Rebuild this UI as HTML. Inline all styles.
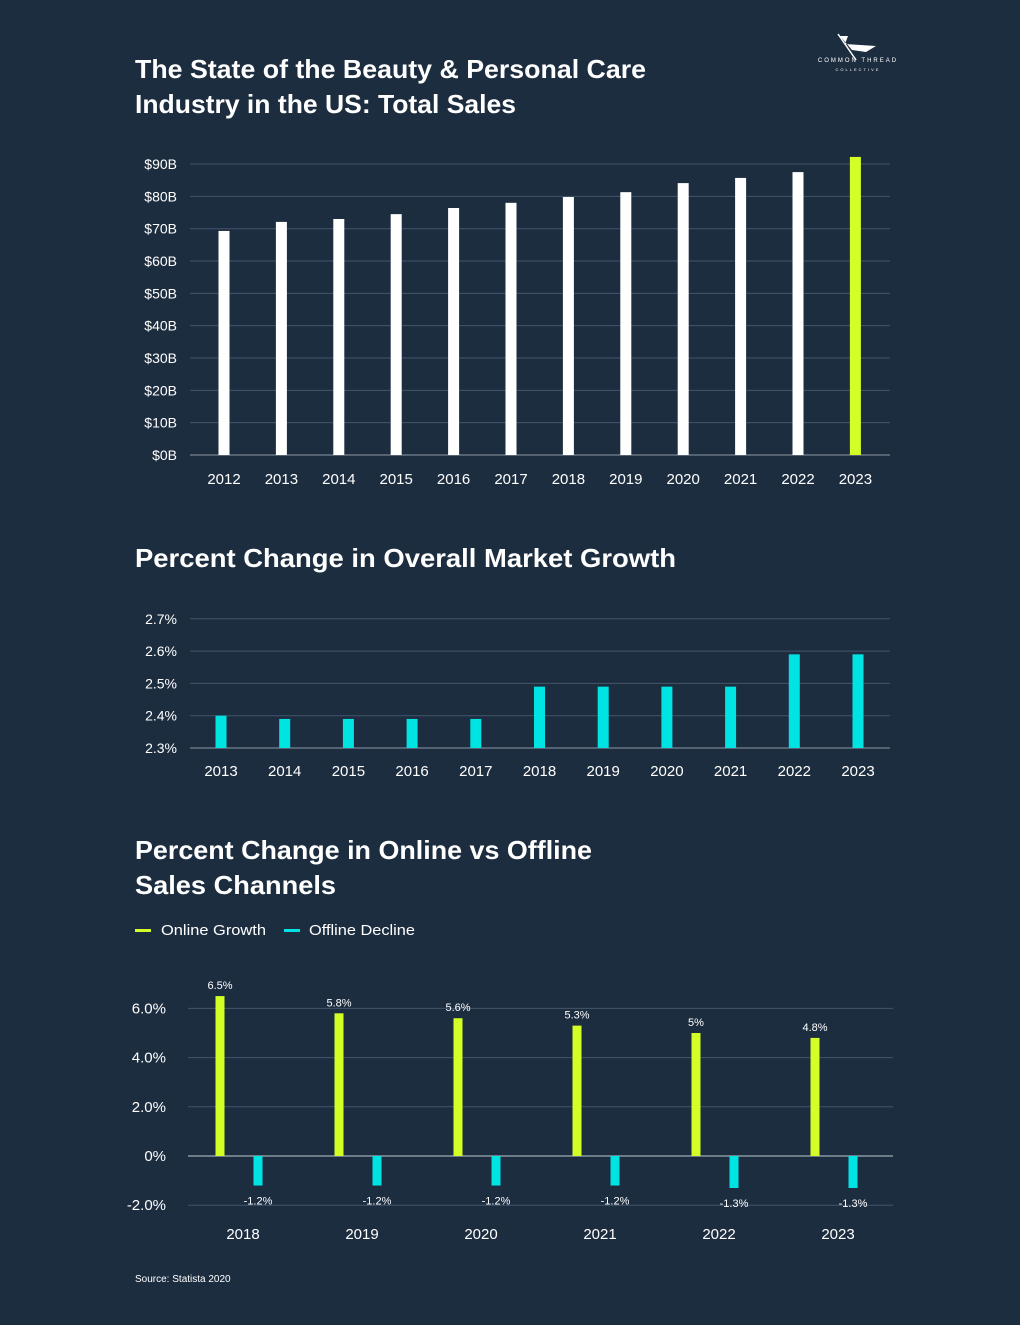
<!DOCTYPE html>
<html><head><meta charset="utf-8">
<style>
body{margin:0;background:#1d2d40;font-family:"Liberation Sans",sans-serif;}
svg text{font-family:"Liberation Sans",sans-serif;}
</style></head>
<body>
<svg id="s" width="1020" height="1320" xmlns="http://www.w3.org/2000/svg">
<rect width="1020" height="1320" fill="#1d2d40"/>
<g>
<path d="M840 36 L848 36 L845 44 L876 46 L866 52 L852 50 Z" fill="#fff"/>
<line x1="838" y1="34" x2="856" y2="60" stroke="#fff" stroke-width="1.5"/>
<text x="858" y="62" fill="#fff" font-size="6" text-anchor="middle" letter-spacing="2">COMMON THREAD</text>
<text x="858" y="71" fill="#fff" font-size="4" text-anchor="middle" letter-spacing="2">COLLECTIVE</text>
</g>
<text x="135" y="78" fill="#fff" font-size="26" font-weight="bold" textLength="511" lengthAdjust="spacingAndGlyphs">The State of the Beauty &amp; Personal Care</text>
<text x="135" y="113" fill="#fff" font-size="26" font-weight="bold" textLength="381" lengthAdjust="spacingAndGlyphs">Industry in the US: Total Sales</text>
<text x="135" y="567" fill="#fff" font-size="26" font-weight="bold" textLength="541" lengthAdjust="spacingAndGlyphs">Percent Change in Overall Market Growth</text>
<text x="135" y="859" fill="#fff" font-size="26" font-weight="bold" textLength="457" lengthAdjust="spacingAndGlyphs">Percent Change in Online vs Offline</text>
<text x="135" y="894" fill="#fff" font-size="26" font-weight="bold" textLength="201" lengthAdjust="spacingAndGlyphs">Sales Channels</text>
<g>
<rect x="135" y="929" width="16" height="3" fill="#d4ff26"/>
<text x="161" y="935" fill="#fff" font-size="15" textLength="105" lengthAdjust="spacingAndGlyphs">Online Growth</text>
<rect x="284" y="929" width="16" height="3" fill="#00e3e3"/>
<text x="309" y="935" fill="#fff" font-size="15" textLength="106" lengthAdjust="spacingAndGlyphs">Offline Decline</text>
</g>
<text x="135" y="1282" fill="#fff" font-size="10">Source: Statista 2020</text>
<g id="c1"></g>
<g id="c2"></g>
<g id="c3"></g>
</svg>
<script>
const salesYears=["2012","2013","2014","2015","2016","2017","2018","2019","2020","2021","2022","2023"];
const salesValues=[69.3,72.1,73,74.5,76.4,78,79.8,81.3,84.1,85.7,87.5,92.2];
const salesTicks=[0,10,20,30,40,50,60,70,80,90];
const growthYears=["2013","2014","2015","2016","2017","2018","2019","2020","2021","2022","2023"];
const growthValues=[2.40,2.39,2.39,2.39,2.39,2.49,2.49,2.49,2.49,2.59,2.59];
const growthTicks=[2.3,2.4,2.5,2.6,2.7];
const channelYears=["2018","2019","2020","2021","2022","2023"];
const onlineValues=[6.5,5.8,5.6,5.3,5,4.8];
const offlineValues=[-1.2,-1.2,-1.2,-1.2,-1.3,-1.3];
const onlineLabels=["6.5%","5.8%","5.6%","5.3%","5%","4.8%"];
const offlineLabels=["-1.2%","-1.2%","-1.2%","-1.2%","-1.3%","-1.3%"];
const channelTicks=[-2,0,2,4,6];
const channelTickLabels=["-2.0%","0%","2.0%","4.0%","6.0%"];

const NS="http://www.w3.org/2000/svg";
function mk(p,t,a,txt){const e=document.createElementNS(NS,t);for(const k in a)e.setAttribute(k,a[k]);if(txt!=null)e.textContent=txt;p.appendChild(e);return e;}

// chart 1
(function(){
const g=document.getElementById('c1');
const y=v=>455-v*3.233;
const x=i=>224+i*57.4;
salesTicks.forEach(t=>{
 const l=mk(g,'line',{x1:190,x2:890,y1:y(t),y2:y(t),stroke:t===0?'#8a96a3':'#44546a','stroke-width':1});
 
 
 const tx=mk(g,'text',{x:177,y:y(t)+5,fill:'#fff','font-size':14,'text-anchor':'end'},'$'+t+'B');
 
 
});
salesYears.forEach((yr,i)=>{
 const b=mk(g,'rect',{x:x(i)-5.5,y:y(salesValues[i]),width:11,height:455-y(salesValues[i]),fill:i===salesYears.length-1?'#d4ff26':'#fff'});
 
 
 const t=mk(g,'text',{x:x(i),y:484,fill:'#fff','font-size':15,'text-anchor':'middle'},yr);
 
 
});
})();
// chart 2
(function(){
const g=document.getElementById('c2');
const y=v=>748-(v-2.3)*323;
const x=i=>221+i*63.7;
growthTicks.forEach((t,k)=>{
 const l=mk(g,'line',{x1:190,x2:890,y1:y(t),y2:y(t),stroke:k===0?'#8a96a3':'#44546a','stroke-width':1});
 
 
 const tx=mk(g,'text',{x:177,y:y(t)+5,fill:'#fff','font-size':14,'text-anchor':'end'},t.toFixed(1)+'%');
 
 
});
growthYears.forEach((yr,i)=>{
 const b=mk(g,'rect',{x:x(i)-5.5,y:y(growthValues[i]),width:11,height:748-y(growthValues[i]),fill:'#00e3e3'});
 
 
 const t=mk(g,'text',{x:x(i),y:776,fill:'#fff','font-size':15,'text-anchor':'middle'},yr);
 
 
});
})();
// chart 3
(function(){
const g=document.getElementById('c3');
const y=v=>1156-v*24.6;
const cx=i=>239+i*119;
channelTicks.forEach((t,k)=>{
 const l=mk(g,'line',{x1:188,x2:893,y1:y(t),y2:y(t),stroke:t===0?'#8a96a3':'#44546a','stroke-width':t===0?1.5:1});
 
 
 const tx=mk(g,'text',{x:166,y:y(t)+5,fill:'#fff','font-size':15,'text-anchor':'end'},channelTickLabels[k]);
 
 
});
channelYears.forEach((yr,i)=>{
 const ox=cx(i)-19, fx=cx(i)+19;
 const b=mk(g,'rect',{x:ox-4.5,y:y(onlineValues[i]),width:9,height:y(0)-y(onlineValues[i]),fill:'#d4ff26'});
 
 
 const lb=mk(g,'text',{x:ox,y:y(onlineValues[i])-7,fill:'#fff','font-size':11,'text-anchor':'middle'},onlineLabels[i]);
 
 
 const c=mk(g,'rect',{x:fx-4.5,y:y(0),width:9,height:y(offlineValues[i])-y(0),fill:'#00e3e3'});
 
 
 const lc=mk(g,'text',{x:fx,y:y(offlineValues[i])+19,fill:'#fff','font-size':11,'text-anchor':'middle'},offlineLabels[i]);
 
 
 const t=mk(g,'text',{x:cx(i)+4,y:1239,fill:'#fff','font-size':15,'text-anchor':'middle'},yr);
 
 
});
})();
</script>
</body></html>
